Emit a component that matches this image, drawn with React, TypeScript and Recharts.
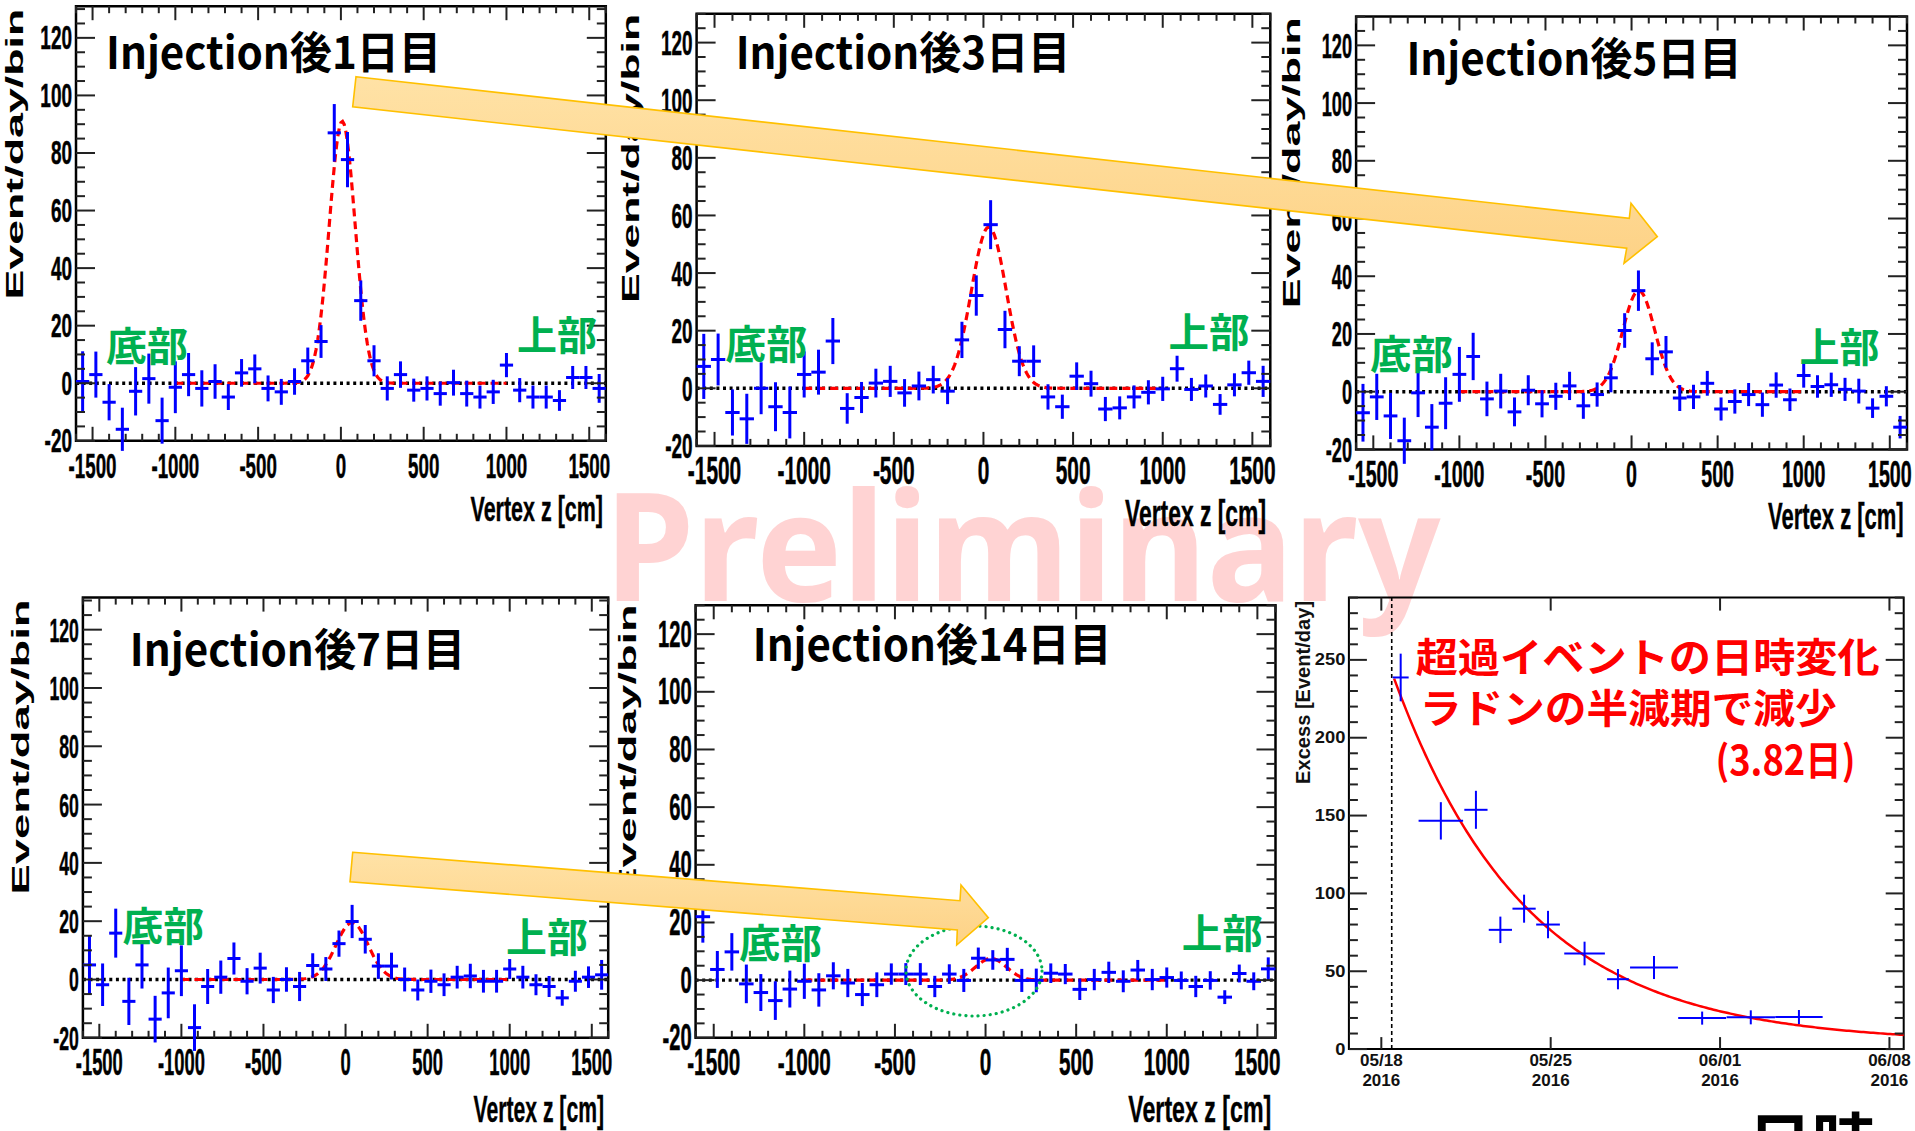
import React from 'react';
import {
  ComposedChart,
  Scatter,
  Line,
  XAxis,
  YAxis,
  ErrorBar,
  ReferenceArea,
  ReferenceLine,
  Label,
} from 'recharts';

const PAGE_W = 1915;
const PAGE_H = 1131;

// ---------------- histogram data (Vertex z, 80 cm bins) ----------------
const binCenters = [
  -1560, -1480, -1400, -1320, -1240, -1160, -1080, -1000, -920, -840,
  -760, -680, -600, -520, -440, -360, -280, -200, -120, -40,
  40, 120, 200, 280, 360, 440, 520, 600, 680, 760,
  840, 920, 1000, 1080, 1160, 1240, 1320, 1400, 1480, 1560,
];
const binHalfWidth = 40;

const day1Values = [0.6, 3, -6.6, -16, -2.8, 1.6, -13, -1.4, 3, -1.8, 0.6, -4.8, 3.6, 5, -1.8, -3, 0.6, 7.8, 14.5, 87, 77.7, 28.7, 7.8, -1.8, 3, -2.4, -1.8, -3.6, 0.2, -3.6, -4.8, -3, 6.3, -2.4, -4.8, -4.8, -6, 2, 2, -1.8];
const day1Errors = [10.5, 8, 6.3, 7.5, 8.4, 8.7, 8, 9, 7.5, 6.3, 6, 4.5, 4.8, 5, 4.5, 4.5, 4.6, 4.6, 5.7, 10, 9.6, 7, 5.4, 4.2, 4.6, 4, 4.2, 4.2, 4.5, 4.5, 4, 4.2, 4.2, 4.2, 4, 4, 3.6, 4, 4, 5];

const day3Values = [7.6, 10, -8.4, -10.6, 0, -6.4, -8.4, 4.8, 5.6, 16.4, -7, -3.2, 1.8, 2.4, -1.6, 0.8, 3, -1, 16.8, 32.2, 56.8, 20.4, 9.4, 9.4, -3, -6.4, 4.2, 1.6, -7.2, -6.8, -3, -1.4, -0.2, 6.8, -0.4, 0.8, -5.6, 1.2, 5.4, 2.4];
const day3Errors = [11.3, 9, 8, 8.7, 9, 8.5, 9, 8, 7.8, 8, 5.3, 5.4, 5, 5.4, 4.8, 5, 4.8, 4.5, 6.3, 7, 8.5, 6.5, 5.2, 5.5, 4.4, 4.2, 4.8, 4.5, 4.2, 4, 4, 4.2, 4.2, 4.5, 4, 4, 3.6, 4, 4.2, 5.4];

const day5Values = [-7.3, -1.8, -8.4, -17, -0.4, -12.3, -4, 6, 12.2, -2.5, 0.2, -7, 0.5, -4.2, -1.6, 2, -4.9, -1, 4.8, 21.2, 35, 11.4, 13.8, -2.2, -1.8, 2.9, -6, -3.4, -1, -4.5, 2.3, -2.8, 5.6, 1.8, 2.4, 0.8, 0.2, -5.7, -1.6, -12.3];
const day5Errors = [10, 8, 8, 8, 8.4, 8, 9, 9.5, 8.2, 6, 6, 5, 5.2, 4.7, 4.7, 4.9, 4.5, 4.2, 5, 6, 7, 5.7, 5.5, 4.5, 4.2, 4.3, 4, 4.2, 4, 4.2, 4.4, 3.9, 4.2, 3.9, 4.2, 4, 4.3, 3.4, 3.5, 3.9];

const day7Values = [5, -1.8, 15.9, -7.5, 5, -13.6, -4.6, 3, -16.5, -2.4, 0.8, 7.2, -0.6, 3.9, -3.6, 0, -2.4, 4.8, 3.6, 12.3, 19.9, 13.8, 4.6, 4.6, 0, -3.6, -0.6, -1.8, 0.8, 1.2, -0.6, -0.6, 3.6, 0.8, -1.8, -2.4, -6.3, -0.6, 0.8, 1.6];
const day7Errors = [10.2, 7.3, 8.4, 8.1, 8.1, 8, 8.7, 8.7, 8, 6, 5.7, 5.5, 4.5, 5.3, 4.5, 4.2, 5, 4.2, 4.1, 4.5, 5.7, 4.9, 4.4, 4.6, 4.1, 3.6, 4, 3.9, 3.9, 4.2, 3.9, 3.9, 3.4, 3.9, 3.6, 3.6, 2.7, 3.6, 3.7, 5.1];

const day14Values = [22, 3.7, 9.8, -1.3, -4.3, -7.1, -3.1, -0.4, -3.4, 1.5, -1, -5, -1.6, 2.1, 2.1, 2.1, -2.2, 2.1, -0.1, 7.6, 7, 7.2, -0.1, -0.1, 2.4, 2.1, -3.2, 0.2, 2.7, -0.4, 3.5, 0.2, 0.9, -0.1, -2.2, -0.1, -5.9, 2.3, -0.4, 3.9];
const day14Errors = [9, 6.4, 6.5, 6.7, 6.4, 6.7, 6.4, 6.1, 5.8, 4.7, 4.9, 4, 4.3, 3.7, 3.8, 3.8, 3.7, 3.4, 4, 3.7, 3.4, 4, 4, 4.1, 3.4, 3.5, 3.7, 3.7, 3.7, 3.8, 3.5, 3.7, 3.5, 3.1, 3.7, 3.2, 2.4, 3.1, 3.1, 4];

const panelTitles = ['Injection後1日目', 'Injection後3日目', 'Injection後5日目', 'Injection後7日目', 'Injection後14日目'];

// Gaussian fit parameters
const fitAmplitude = [91, 56, 35, 19.5, 7.5];
const fitMean = [8, 30, 42, 40, 30];
const fitSigma = [78, 97, 93, 98, 85];
const fitRange = [-1000, 1000];

const histXTicks = Array.from({ length: 33 }, (_, i) => -1600 + i * 100);
const histYTicks = Array.from({ length: 31 }, (_, i) => -20 + i * 5);
const fitSampleX = Array.from({ length: 201 }, (_, i) => fitRange[0] + i * 10);

// ---------------- decay plot data ----------------
const decayDays = [0.8, 2.46, 3.91, 4.92, 5.9, 6.89, 8.4, 9.78, 11.27, 13.26, 15.27, 17.26];
const decayExcess = [238.7, 146.6, 153.7, 76.6, 90.2, 80, 61.4, 44.9, 52.4, 19.9, 20.4, 20.6];
const decayDayErr = [0.33, 0.92, 0.48, 0.48, 0.48, 0.49, 0.84, 0.45, 0.99, 0.99, 1.0, 0.98];
const decayExcessErr = [15.3, 12, 12.2, 8.5, 9, 8.8, 7.6, 6.5, 7.4, 4.2, 4.5, 4.5];
const decayAmp = 234;
const decayStart = 0.53;
const radonHalfLife = 3.82;
const decayOffset = 4;
const injectionDay = 0.43;
const dateTickDays = [0, 7, 14, 21];
const dateTickLabels = ['05/18', '05/25', '06/01', '06/08'];
const dateTickYears = ['2016', '2016', '2016', '2016'];
const decayYTicks = Array.from({ length: 30 }, (_, i) => i * 10);
const decayCurveX = Array.from({ length: 212 }, (_, i) => decayStart + i * 0.1);

// ---------------- styling / layout ----------------
const BLUE = '#0000ff';
const RED = '#ff0000';
const GREEN = '#00b050';
const TICK = '#222';
const FONT_ROOT = '"Liberation Sans", Arial, Helvetica, sans-serif';
const FONT_JP = '"Noto Sans CJK JP", "Noto Sans", sans-serif';

type Frame = { l: number; t: number; r: number; b: number };

const histFrames: Frame[] = [
  { l: 76, t: 6.2, r: 605.8, b: 440.8 },
  { l: 696.6, t: 13.8, r: 1270.3, b: 445.9 },
  { l: 1356.1, t: 16.5, r: 1907, b: 449.4 },
  { l: 82.9, t: 597.6, r: 608.2, b: 1037.8 },
  { l: 695.6, t: 605.3, r: 1275.5, b: 1037.8 },
];
const histYMax = [131, 130, 130, 131, 130];
// tick label font size and horizontal squeeze (the reference labels are very condensed)
const histXFont = [35, 38, 37, 36, 37];
const histXSqueeze = [0.535, 0.55, 0.53, 0.51, 0.56];
const histYFont = [33, 35, 35, 34, 36];
const histYSqueeze = [0.575, 0.54, 0.52, 0.52, 0.56];
const vertexLabel = [
  { x: 603, y: 521, w: 132.5, fs: 35 },
  { x: 1266, y: 526, w: 141, fs: 36 },
  { x: 1903.7, y: 529, w: 135.7, fs: 36 },
  { x: 604, y: 1121.5, w: 130.5, fs: 37 },
  { x: 1271.3, y: 1121.5, w: 143, fs: 37 },
];
const yTitle = [
  { x: 22.9, y: 154.1, len: 291 },
  { x: 639, y: 158.4, len: 289 },
  { x: 1300.3, y: 162.7, len: 291 },
  { x: 29.4, y: 746.9, len: 295 },
  { x: 636, y: 751, len: 293 },
];
const titlePos = [
  { x: 106, y: 68.9, w: 335 },
  { x: 735.7, y: 68.9, w: 334.6 },
  { x: 1406.4, y: 75, w: 335.3 },
  { x: 129.8, y: 666.1, w: 335.5 },
  { x: 752.8, y: 660.8, w: 358.6 },
];
const bottomLabelPos = [
  { x: 106, y: 361, w: 82 },
  { x: 725.2, y: 358.6, w: 82 },
  { x: 1369.9, y: 368.9, w: 83 },
  { x: 122.4, y: 940.7, w: 81.6 },
  { x: 738.9, y: 958.2, w: 83 },
];
const topLabelPos = [
  { x: 517, y: 350, w: 80 },
  { x: 1168.4, y: 346.5, w: 81 },
  { x: 1799.6, y: 362, w: 80 },
  { x: 506, y: 952.3, w: 81.8 },
  { x: 1181.7, y: 947.7, w: 81 },
];
const decayFrame: Frame = { l: 1348.9, t: 597.6, r: 1903.7, b: 1049.1 };

const histValues = [day1Values, day3Values, day5Values, day7Values, day14Values];
const histErrors = [day1Errors, day3Errors, day5Errors, day7Errors, day14Errors];

const layer: React.CSSProperties = { position: 'absolute', left: 0, top: 0 };

// axes need a non-zero size to render; they take 1px which is removed from the margin
function chartMargin(f: Frame) {
  return { left: f.l - 1, top: f.t, right: PAGE_W - f.r, bottom: PAGE_H - f.b - 1 };
}

// approximate advance width (in em) of a numeric label in Liberation Sans Bold
function numEm(s: string) {
  let w = 0;
  for (const ch of s) w += ch === '-' ? 0.333 : 0.556;
  return w;
}

const noShape = () => <g />;

function makeHistXTick(f: Frame, fs: number, k: number) {
  return (props: any) => {
    const x = props.x as number;
    const v = props.payload?.value as number;
    const major = v % 500 === 0;
    const len = major ? 14 : 7;
    const s = String(v);
    return (
      <g>
        <line x1={x} x2={x} y1={f.b} y2={f.b - len} stroke={TICK} strokeWidth={2} />
        <line x1={x} x2={x} y1={f.t} y2={f.t + len} stroke={TICK} strokeWidth={2} />
        {major && Math.abs(v) <= 1500 ? (
          <text
            x={x}
            y={f.b + 25}
            textAnchor="middle"
            dominantBaseline="central"
            fontFamily={FONT_ROOT}
            fontWeight="bold"
            fontSize={fs}
            fill="#000"
            stroke="#000"
            strokeWidth={0.5}
            textLength={numEm(s) * fs * k}
            lengthAdjust="spacingAndGlyphs"
          >
            {s}
          </text>
        ) : null}
      </g>
    );
  };
}

function makeHistYTick(f: Frame, fs: number, k: number) {
  return (props: any) => {
    const y = props.y as number;
    const v = props.payload?.value as number;
    const major = v % 20 === 0;
    const len = major ? 19 : 9;
    const s = String(v);
    return (
      <g>
        <line x1={f.l} x2={f.l + len} y1={y} y2={y} stroke={TICK} strokeWidth={2} />
        <line x1={f.r} x2={f.r - len} y1={y} y2={y} stroke={TICK} strokeWidth={2} />
        {major ? (
          <text
            x={f.l - 4}
            y={y}
            textAnchor="end"
            dominantBaseline="central"
            fontFamily={FONT_ROOT}
            fontWeight="bold"
            fontSize={fs}
            fill="#000"
            stroke="#000"
            strokeWidth={0.5}
            textLength={numEm(s) * fs * k}
            lengthAdjust="spacingAndGlyphs"
          >
            {s}
          </text>
        ) : null}
      </g>
    );
  };
}

function HistPanel({ idx }: { idx: number }) {
  const f = histFrames[idx];
  const yMax = histYMax[idx];
  const values = histValues[idx];
  const errors = histErrors[idx];
  const points = binCenters.map((x, i) => ({ x, y: values[i], ey: errors[i], ex: binHalfWidth }));
  const amp = fitAmplitude[idx];
  const mu = fitMean[idx];
  const sg = fitSigma[idx];
  const fitData = fitSampleX.map((x) => ({ x, y: amp * Math.exp(-0.5 * ((x - mu) / sg) ** 2) }));
  const zeroLine = [
    { x: -1600, y: 0 },
    { x: 1600, y: 0 },
  ];
  const vl = vertexLabel[idx];
  const yt = yTitle[idx];
  return (
    <div style={layer}>
      <ComposedChart width={PAGE_W} height={PAGE_H} margin={chartMargin(f)}>
        <XAxis
          type="number"
          dataKey="x"
          domain={[-1600, 1600]}
          ticks={histXTicks}
          interval={0}
          height={1}
          tickSize={0}
          axisLine={false}
          tickLine={false}
          tick={makeHistXTick(f, histXFont[idx], histXSqueeze[idx])}
          allowDataOverflow
        >
          <Label
            content={() => (
              <text x={vl.x} y={vl.y} textAnchor="end" fontFamily={FONT_ROOT} fontWeight="bold" fontSize={vl.fs} textLength={vl.w} lengthAdjust="spacingAndGlyphs" fill="#000" stroke="#000" strokeWidth={0.4}>
                Vertex z [cm]
              </text>
            )}
          />
        </XAxis>
        <YAxis
          type="number"
          dataKey="y"
          domain={[-20, yMax]}
          ticks={histYTicks}
          interval={0}
          width={1}
          tickSize={0}
          axisLine={false}
          tickLine={false}
          tick={makeHistYTick(f, histYFont[idx], histYSqueeze[idx])}
          allowDataOverflow
        >
          <Label
            content={() => (
              <text
                transform={`translate(${yt.x},${yt.y}) rotate(-90)`}
                x={0}
                y={0}
                textAnchor="middle"
                fontFamily={FONT_ROOT}
                fontWeight="bold"
                fontSize={24}
                textLength={yt.len}
                lengthAdjust="spacingAndGlyphs"
                fill="#000"
              >
                Event/day/bin
              </text>
            )}
          />
        </YAxis>
        <Line data={zeroLine} dataKey="y" stroke="#000" strokeWidth={3.4} strokeDasharray="3 3.6" dot={false} activeDot={false} isAnimationActive={false} />
        <Line data={fitData} dataKey="y" stroke={RED} strokeWidth={3.2} strokeDasharray="8 5" dot={false} activeDot={false} isAnimationActive={false} />
        <Scatter data={points} dataKey="y" shape={noShape} isAnimationActive={false}>
          <ErrorBar dataKey="ey" direction="y" width={0} stroke={BLUE} strokeWidth={3} isAnimationActive={false} />
          <ErrorBar dataKey="ex" direction="x" width={0} stroke={BLUE} strokeWidth={3} isAnimationActive={false} />
        </Scatter>
        <ReferenceArea x1={-1600} x2={1600} y1={-20} y2={yMax} fill="none" fillOpacity={0} stroke="#000" strokeWidth={2.5} ifOverflow="visible" />
      </ComposedChart>
    </div>
  );
}

function DecayPanel() {
  const f = decayFrame;
  const pts = decayDays.map((d, i) => ({ x: d, y: decayExcess[i], ex: decayDayErr[i], ey: decayExcessErr[i] }));
  const curve = decayCurveX.map((t) => ({ x: t, y: decayAmp * Math.pow(0.5, (t - decayStart) / radonHalfLife) + decayOffset }));
  const xTick = (props: any) => {
    const x = props.x as number;
    const v = props.payload?.value as number;
    const i = dateTickDays.indexOf(v);
    return (
      <g>
        <line x1={x} x2={x} y1={f.b} y2={f.b - 12} stroke={TICK} strokeWidth={2} />
        <line x1={x} x2={x} y1={f.t} y2={f.t + 13} stroke={TICK} strokeWidth={2} />
        <text x={x} y={1060.5} textAnchor="middle" dominantBaseline="central" fontFamily={FONT_ROOT} fontWeight="bold" fontSize={17} fill="#111">
          {dateTickLabels[i]}
        </text>
        <text x={x} y={1080} textAnchor="middle" dominantBaseline="central" fontFamily={FONT_ROOT} fontWeight="bold" fontSize={17} fill="#111">
          {dateTickYears[i]}
        </text>
      </g>
    );
  };
  const yTick = (props: any) => {
    const y = props.y as number;
    const v = props.payload?.value as number;
    const major = v % 50 === 0;
    const len = major ? 18 : 9;
    const s = String(v);
    return (
      <g>
        <line x1={f.l} x2={f.l + len} y1={y} y2={y} stroke={TICK} strokeWidth={2} />
        <line x1={f.r} x2={f.r - len} y1={y} y2={y} stroke={TICK} strokeWidth={2} />
        {major ? (
          <text
            x={f.l - 3.5}
            y={y}
            textAnchor="end"
            dominantBaseline="central"
            fontFamily={FONT_ROOT}
            fontWeight="bold"
            fontSize={17}
            fill="#111"
            textLength={numEm(s) * 17 * 1.08}
            lengthAdjust="spacingAndGlyphs"
          >
            {s}
          </text>
        ) : null}
      </g>
    );
  };
  return (
    <div style={layer}>
      <ComposedChart width={PAGE_W} height={PAGE_H} margin={chartMargin(f)}>
        <XAxis
          type="number"
          dataKey="x"
          domain={[-1.34, 21.59]}
          ticks={dateTickDays}
          interval={0}
          height={1}
          tickSize={0}
          axisLine={false}
          tickLine={false}
          tick={xTick}
          allowDataOverflow
        />
        <YAxis
          type="number"
          dataKey="y"
          domain={[0, 290]}
          ticks={decayYTicks}
          interval={0}
          width={1}
          tickSize={0}
          axisLine={false}
          tickLine={false}
          tick={yTick}
          allowDataOverflow
        >
          <Label
            content={() => (
              <text
                transform={`translate(1310.4,692.4) rotate(-90)`}
                x={0}
                y={0}
                textAnchor="middle"
                fontFamily={FONT_ROOT}
                fontWeight="bold"
                fontSize={20}
                textLength={183}
                lengthAdjust="spacingAndGlyphs"
                fill="#111"
              >
                Excess [Event/day]
              </text>
            )}
          />
        </YAxis>
        <ReferenceLine x={injectionDay} stroke="#000" strokeWidth={1.6} strokeDasharray="4 3" />
        <Line data={curve} dataKey="y" stroke={RED} strokeWidth={2.5} dot={false} activeDot={false} isAnimationActive={false} />
        <Scatter data={pts} dataKey="y" shape={noShape} isAnimationActive={false}>
          <ErrorBar dataKey="ey" direction="y" width={0} stroke={BLUE} strokeWidth={2} isAnimationActive={false} />
          <ErrorBar dataKey="ex" direction="x" width={0} stroke={BLUE} strokeWidth={2} isAnimationActive={false} />
        </Scatter>
        <ReferenceArea x1={-1.34} x2={21.59} y1={0} y2={290} fill="none" fillOpacity={0} stroke="#000" strokeWidth={2} ifOverflow="visible" />
      </ComposedChart>
    </div>
  );
}

function Watermark() {
  return (
    <svg width={PAGE_W} height={PAGE_H} style={{ ...layer, pointerEvents: 'none' }}>
      <text x={604.5} y={601} fontFamily='"Noto Sans", "Open Sans", sans-serif' fontWeight="bold" fontSize={150} fill="#ffd3d3" textLength={836} lengthAdjust="spacingAndGlyphs">
        Preliminary
      </text>
    </svg>
  );
}

function Overlay() {
  const arrow1 = '356,76.7 1629.3,218.3 1631,203.3 1657.3,236.7 1624,263.3 1626.7,248.3 352.7,106.7';
  const arrow2 = '352.7,852.3 960,900.7 961,885 988.3,917.7 956.7,945 957.3,930 350,881.7';
  return (
    <svg width={PAGE_W} height={PAGE_H} style={{ ...layer, pointerEvents: 'none' }}>
      <defs>
        <linearGradient id="arrowFill" x1="0" y1="0" x2="0" y2="1">
          <stop offset="0" stopColor="#ffe2a6" />
          <stop offset="1" stopColor="#fdd286" />
        </linearGradient>
      </defs>
      {panelTitles.map((t, i) => (
        <text key={`t${i}`} x={titlePos[i].x} y={titlePos[i].y} fontFamily={FONT_JP} fontWeight="bold" fontSize={44} fill="#000" textLength={titlePos[i].w} lengthAdjust="spacingAndGlyphs">
          {t}
        </text>
      ))}
      {bottomLabelPos.map((p, i) => (
        <text key={`b${i}`} x={p.x} y={p.y} fontFamily={FONT_JP} fontWeight="bold" fontSize={40} fill={GREEN} textLength={p.w} lengthAdjust="spacingAndGlyphs">
          底部
        </text>
      ))}
      {topLabelPos.map((p, i) => (
        <text key={`u${i}`} x={p.x} y={p.y} fontFamily={FONT_JP} fontWeight="bold" fontSize={40} fill={GREEN} textLength={p.w} lengthAdjust="spacingAndGlyphs">
          上部
        </text>
      ))}
      <ellipse cx={974} cy={971} rx={68} ry={45} fill="none" stroke={GREEN} strokeWidth={3.2} strokeDasharray="0.1 6" strokeLinecap="round" />
      <polygon points={arrow1} fill="url(#arrowFill)" stroke="#ffc000" strokeWidth={1.6} strokeLinejoin="miter" />
      <polygon points={arrow2} fill="url(#arrowFill)" stroke="#ffc000" strokeWidth={1.6} strokeLinejoin="miter" />
      <text x={1415.7} y={672} fontFamily={FONT_JP} fontWeight="bold" fontSize={40} fill={RED} textLength={464} lengthAdjust="spacingAndGlyphs">
        超過イベントの日時変化
      </text>
      <text x={1419.7} y={723} fontFamily={FONT_JP} fontWeight="bold" fontSize={40} fill={RED} textLength={417} lengthAdjust="spacingAndGlyphs">
        ラドンの半減期で減少
      </text>
      <text x={1715.4} y={775} fontFamily={FONT_JP} fontWeight="bold" fontSize={40} fill={RED} textLength={140} lengthAdjust="spacingAndGlyphs">
        (3.82日)
      </text>
      <text x={1748} y={1166} fontFamily={FONT_JP} fontWeight="bold" fontSize={64} fill="#000">
        日時
      </text>
    </svg>
  );
}

export default function App() {
  return (
    <div style={{ position: 'absolute', left: 0, top: 0, width: PAGE_W, height: PAGE_H, background: '#fff', overflow: 'hidden' }}>
      <Watermark />
      {histFrames.map((_, i) => (
        <HistPanel key={i} idx={i} />
      ))}
      <DecayPanel />
      <Overlay />
    </div>
  );
}
